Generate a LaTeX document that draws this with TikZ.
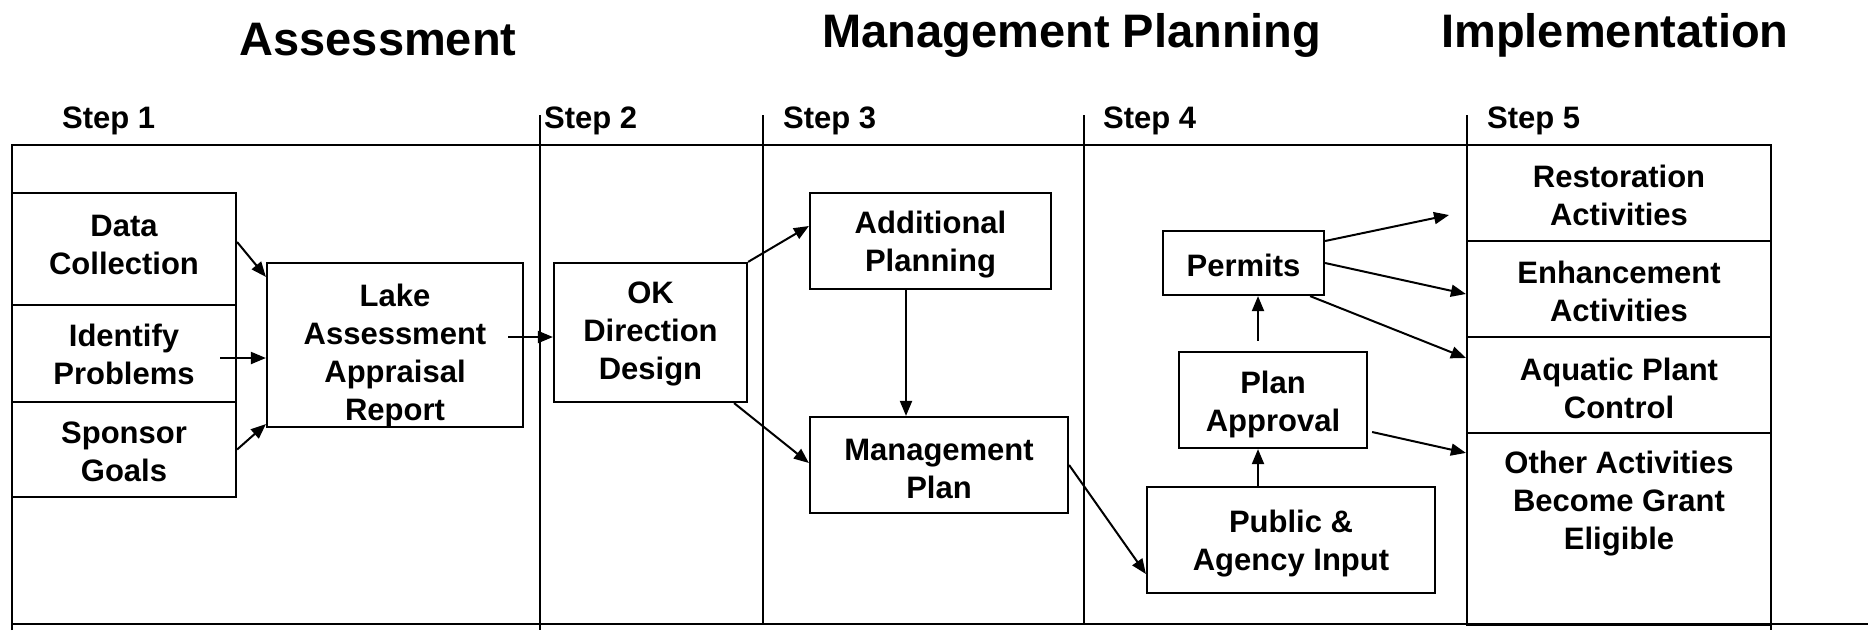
\documentclass[tikz,border=0pt]{standalone}
\usepackage{fontspec}
\setmainfont{Liberation Sans}
\usetikzlibrary{arrows.meta}
\newcommand\bxfont{\fontsize{31}{38}\selectfont\bfseries}
\newcommand\hdfont{\fontsize{47}{52}\selectfont\bfseries}
\begin{document}
\begin{tikzpicture}[x=1pt,y=-1pt,
  box/.style={draw, line width=2.2pt, inner sep=0pt},
  txt/.style={inner sep=0pt, align=center, font=\bxfont},
  frame/.style={line width=2.6pt},
  arr/.style={line width=2pt, -{Triangle[length=15pt,width=12pt]}},
  steplbl/.style={anchor=base west, inner sep=0pt, font=\bxfont},
  head/.style={anchor=base, inner sep=0pt, font=\hdfont}]
\useasboundingbox (0,0) rectangle (1868,630);
% headers
\node[head] (h1) at (378,55) {Assessment};
\node[head] (h2) at (1072,47) {Management Planning};
\node[head] (h3) at (1615,47) {Implementation};
% step labels
\node[steplbl] (s1) at (62,128) {Step 1};
\node[steplbl] (s2) at (544,128) {Step 2};
\node[steplbl] (s3) at (783,128) {Step 3};
\node[steplbl] (s4) at (1103,128) {Step 4};
\node[steplbl] (s5) at (1487,128) {Step 5};
% frame
\draw[frame] (12,630) -- (12,145) -- (1771,145);
\draw[frame] (12,624) -- (1868,624);
\draw[frame] (540,115) -- (540,630);
\draw[frame] (763,115) -- (763,624);
\draw[frame] (1084,115) -- (1084,624);
\draw[frame] (1467,115) -- (1467,624);
\draw[frame] (1771,145) -- (1771,630);
% boxes
\node[box, minimum width=224pt, minimum height=112pt] (dc) at (124,249) {};
\node[box, minimum width=224pt, minimum height=97pt] (ip) at (124,353.5) {};
\node[box, minimum width=224pt, minimum height=95pt] (sg) at (124,449.5) {};
\node[box, minimum width=256pt, minimum height=164pt] (lake) at (395,345) {};
\node[box, minimum width=193pt, minimum height=139pt] (ok) at (650.5,332.5) {};
\node[box, minimum width=241pt, minimum height=96pt] (ap) at (930.5,241) {};
\node[box, minimum width=258pt, minimum height=96pt] (mp) at (939,465) {};
\node[box, minimum width=161pt, minimum height=64pt] (perm) at (1243.5,263) {};
\node[box, minimum width=188pt, minimum height=96pt] (pa) at (1273,400) {};
\node[box, minimum width=288pt, minimum height=106pt] (pub) at (1291,540) {};
\node[box, minimum width=304pt, minimum height=96pt] (rest) at (1619,193) {};
\node[box, minimum width=304pt, minimum height=96pt] (enh) at (1619,289) {};
\node[box, minimum width=304pt, minimum height=96pt] (aq) at (1619,385) {};
\node[box, minimum width=304pt, minimum height=192pt] (oth) at (1619,529) {};
% box texts
\node[txt] (dct) at ([yshift=4pt]dc.center) {Data\\Collection};
\node[txt] (ipt) at ([yshift=-1pt]ip.center) {Identify\\Problems};
\node[txt] (sgt) at ([yshift=-2pt]sg.center) {Sponsor\\Goals};
\node[txt] (laket) at ([yshift=-10pt]lake.center) {Lake\\Assessment\\Appraisal\\Report};
\node[txt] (okt) at ([yshift=-1pt]ok.center) {OK\\Direction\\Design};
\node[txt] (apt) at ([yshift=-4pt]ap.center) {Additional\\Planning};
\node[txt] (mpt) at ([yshift=-4pt]mp.center) {Management\\Plan};
\node[txt] (permt) at ([yshift=-2pt]perm.center) {Permits};
\node[txt] (pat) at ([yshift=-4pt]pa.center) {Plan\\Approval};
\node[txt] (pubt) at ([yshift=-4pt]pub.center) {Public \&\\Agency Input};
\node[txt] (restt) at ([yshift=-2pt]rest.center) {Restoration\\Activities};
\node[txt] (enht) at ([yshift=-2pt]enh.center) {Enhancement\\Activities};
\node[txt] (aqt) at ([yshift=-3pt]aq.center) {Aquatic Plant\\Control};
\node[txt, anchor=north] (otht) at ([yshift=-19pt]oth.north) {Other Activities\\Become Grant\\Eligible};
% connectors
\draw[arr] ([yshift=7pt]dc.east) -- ([yshift=-15pt]lake.north west);
\draw[arr] ([xshift=-17pt,yshift=-4.5pt]ip.east) -- ([yshift=-13pt]lake.west);
\draw[arr] (sg.east) -- ([yshift=4pt]lake.south west);
\draw[arr] ([xshift=-16pt,yshift=8pt]lake.east) -- ([yshift=-4.5pt]ok.west);
\draw[arr] (ok.north east) -- ([yshift=15pt]ap.west);
\draw[arr] ([xshift=-24.5pt]ap.south) -- ([xshift=-33pt]mp.north);
\draw[arr] ([xshift=-14pt]ok.south east) -- ([yshift=2pt]mp.west);
\draw[arr] (mp.east) -- ([yshift=-34pt]pub.west);
\draw[arr] ([xshift=-33pt]pub.north) -- ([xshift=-15pt]pa.south);
\draw[arr] ([xshift=-15pt,yshift=10pt]pa.north) -- ([xshift=14.5pt]perm.south);
\coordinate (freeend) at (1449,215);
\draw[arr] ([yshift=22pt]perm.east) -- (freeend);
\draw[arr] (perm.east) -- ([yshift=-5pt]enh.west);
\draw[arr] ([xshift=-15pt]perm.south east) -- ([yshift=27pt]aq.west);
\draw[arr] ([xshift=4pt,yshift=-32pt]pa.east) -- ([yshift=-21pt]oth.north west);
\end{tikzpicture}
\end{document}
